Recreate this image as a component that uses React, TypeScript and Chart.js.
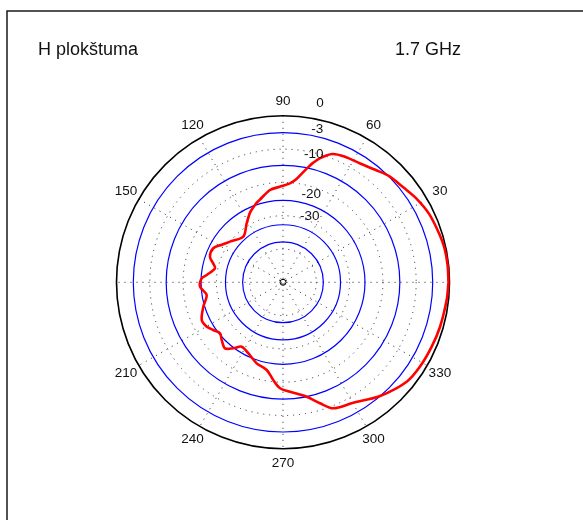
import React, { useEffect, useRef } from "react";
import { Chart, registerables } from "chart.js";

Chart.register(...registerables);

// ---- data ----
const TITLE_LEFT = "H plokštuma";
const TITLE_RIGHT = "1.7 GHz";

const ANGLES_DEG = [
  0, 6, 12, 17, 25, 32, 38, 45, 50, 57, 64, 69, 73.5, 76, 78, 80, 83, 86, 92, 98,
  106, 109, 115, 121.6, 131, 142.5, 148.5, 154, 160.7, 165, 168.4, 174.5, 177.2, 183,
  189.4, 197, 204.9, 210, 214.4, 219, 223.3, 228.7, 233, 237.3, 243.9, 252, 259.5,
  264.3, 268.4, 273.7, 281.7, 287, 291.8, 300.3, 310.5, 321.2, 328.4, 336.6, 344.2,
  353.8, 360,
];
const GAIN_DB = [
  -0.17, -0.17, -0.25, -0.48, -0.88, -1.55, -2.31, -2.93, -3.71, -4.57, -4.91, -5.42,
  -7.14, -8.59, -10.03, -11.47, -13.5, -14.62, -15.66, -16.38, -18.81, -19.6, -21.6,
  -24.74, -28.58, -25.78, -23.7, -21.55, -21.62, -23.6, -24.7, -21.9, -20.2, -19.62,
  -21.62, -19.55, -17.49, -17.9, -19.15, -20.34, -19.25, -18.03, -19.8, -21.95, -21.05,
  -18.91, -17.62, -14.9, -12.75, -11.8, -10.01, -7.76, -5.77, -5.01, -3.04, -1.35,
  -0.97, -0.77, -0.56, -0.32, -0.17,
];

const RING_DB = [-3, -10, -20, -30, -40];
const RADIAL_LABELS = ["0", "-3", "-10", "-20", "-30"];
const ANGLE_LABELS = [30, 60, 90, 120, 150, 210, 240, 270, 300, 330];
const SPOKE_ANGLES = [0, 30, 60, 90, 120, 150];
const DOTTED_RINGS = [0.2, 0.4, 0.6, 0.8];

// ---- layout ----
const DB_SCALE = 65; // radial mapping: rho = 10^(dB/65)
const RADIAL_LABEL_POS: [number, number][] = [
  [0.222, 1.075],
  [0.206, 0.918],
  [0.184, 0.771],
  [0.17, 0.53],
  [0.16, 0.394],
];
const FONT = "Liberation Sans, Arial, sans-serif";

const rho = (db: number) => Math.pow(10, db / DB_SCALE);

const polarPlugin = {
  id: "polarGrid",
  beforeDatasetsDraw(chart: any) {
    const { ctx, scales } = chart;
    const sx = scales.x;
    const sy = scales.y;
    const cx = sx.getPixelForValue(0);
    const cy = sy.getPixelForValue(0);
    const R = sx.getPixelForValue(1) - cx;
    ctx.save();
    // frame
    ctx.strokeStyle = "#1a1a1a";
    ctx.lineWidth = 1.5;
    ctx.strokeRect(7, 11, chart.width + 20, chart.height + 20);

    // dotted grid
    ctx.strokeStyle = "#222";
    ctx.lineWidth = 1;
    ctx.setLineDash([1, 5]);
    for (const f of DOTTED_RINGS) {
      ctx.beginPath();
      ctx.arc(cx, cy, f * R, 0, Math.PI * 2);
      ctx.stroke();
    }
    for (const a of SPOKE_ANGLES) {
      const t = (a * Math.PI) / 180;
      ctx.beginPath();
      ctx.moveTo(sx.getPixelForValue(Math.cos(t)), sy.getPixelForValue(Math.sin(t)));
      ctx.lineTo(sx.getPixelForValue(-Math.cos(t)), sy.getPixelForValue(-Math.sin(t)));
      ctx.stroke();
    }
    ctx.setLineDash([]);

    // blue dB rings
    ctx.strokeStyle = "#0000ff";
    ctx.lineWidth = 1.2;
    for (const db of RING_DB) {
      ctx.beginPath();
      ctx.arc(cx, cy, rho(db) * R, 0, Math.PI * 2);
      ctx.stroke();
    }
    // outer circle
    ctx.strokeStyle = "#000";
    ctx.lineWidth = 1.6;
    ctx.beginPath();
    ctx.arc(cx, cy, R, 0, Math.PI * 2);
    ctx.stroke();
    // centre marker
    ctx.lineWidth = 1;
    ctx.beginPath();
    ctx.arc(cx, cy, 3, 0, Math.PI * 2);
    ctx.stroke();
    ctx.restore();
  },
  afterDatasetsDraw(chart: any) {
    const { ctx, scales } = chart;
    const sx = scales.x;
    const sy = scales.y;
    ctx.save();
    ctx.fillStyle = "#111";
    ctx.textAlign = "center";
    ctx.textBaseline = "middle";
    ctx.font = `13.5px ${FONT}`;
    for (const a of ANGLE_LABELS) {
      const t = (a * Math.PI) / 180;
      ctx.fillText(
        String(a),
        sx.getPixelForValue(1.088 * Math.cos(t)),
        sy.getPixelForValue(1.088 * Math.sin(t))
      );
    }
    RADIAL_LABELS.forEach((lab, i) => {
      const [px, py] = RADIAL_LABEL_POS[i];
      ctx.fillText(lab, sx.getPixelForValue(px), sy.getPixelForValue(py));
    });
    // titles
    ctx.textAlign = "left";
    ctx.textBaseline = "alphabetic";
    ctx.font = `18px ${FONT}`;
    ctx.fillText(TITLE_LEFT, 38, 55);
    ctx.fillText(TITLE_RIGHT, 395, 55);
    ctx.restore();
  },
};

export default function App() {
  const ref = useRef<HTMLCanvasElement | null>(null);
  useEffect(() => {
    if (!ref.current) return;
    const points = ANGLES_DEG.map((a, i) => {
      const t = (a * Math.PI) / 180;
      const r = rho(GAIN_DB[i]);
      return { x: r * Math.cos(t), y: r * Math.sin(t) };
    });
    const W = 583;
    const H = 520;
    const CX = 283;
    const CY = 282.3;
    const R = 166.5;
    const L = 1.2;
    const chart = new Chart(ref.current, {
      type: "scatter",
      data: {
        datasets: [
          {
            data: points,
            showLine: true,
            borderColor: "#ff0000",
            borderWidth: 2.6,
            pointRadius: 0,
            tension: 0.3,
            fill: false,
          },
        ],
      },
      options: {
        animation: false,
        responsive: true,
        maintainAspectRatio: false,
        layout: {
          padding: {
            left: CX - L * R,
            right: W - (CX + L * R),
            top: CY - L * R,
            bottom: H - (CY + L * R),
          },
        },
        plugins: { legend: { display: false }, tooltip: { enabled: false } },
        scales: {
          x: { type: "linear", min: -L, max: L, display: false },
          y: { type: "linear", min: -L, max: L, display: false },
        },
      },
      plugins: [polarPlugin],
    });
    return () => chart.destroy();
  }, []);
  return (
    <div style={{ position: "fixed", left: 0, top: 0, width: 583, height: 520, background: "#fff" }}>
      <canvas ref={ref} />
    </div>
  );
}
